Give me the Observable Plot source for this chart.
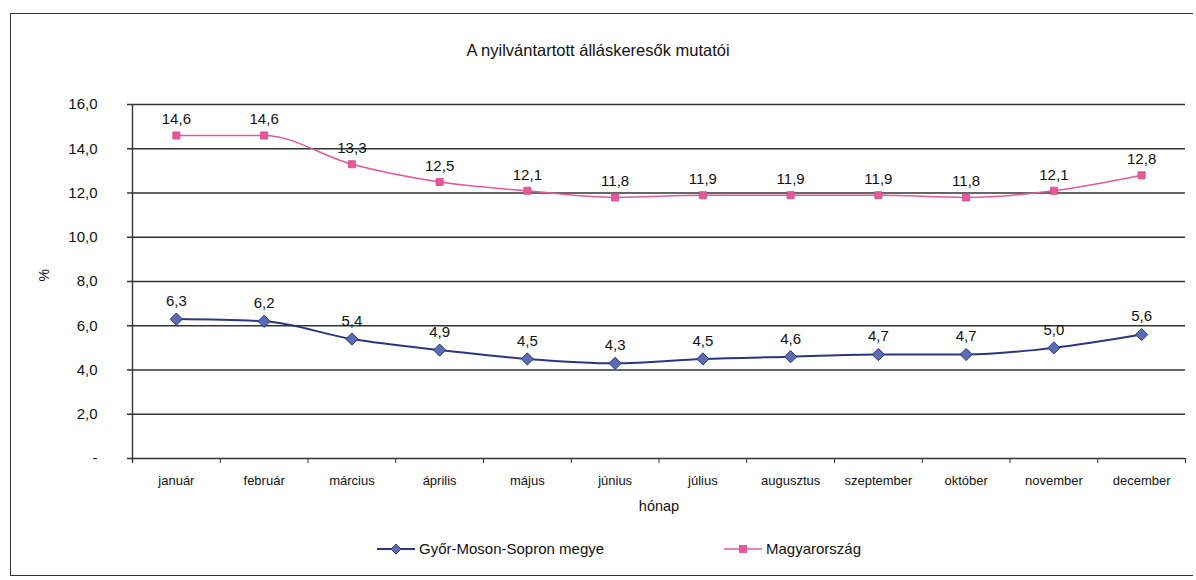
<!DOCTYPE html>
<html>
<head>
<meta charset="utf-8">
<script src="https://cdn.jsdelivr.net/npm/d3@7"></script>
<script src="https://cdn.jsdelivr.net/npm/@observablehq/plot@0.6"></script>
<style>
  html, body { margin:0; padding:0; background:#fff; }
  body { width:1196px; height:580px; position:relative; overflow:hidden; font-family:"Liberation Sans", Arial, sans-serif; color:#111; }
  #frame { position:absolute; left:10px; top:13px; width:1182px; height:561px; border:1.5px solid #333; border-right:none; }
  #title { position:absolute; left:0; width:1196px; top:41px; text-align:center; font-size:16.5px; }
  #chart { position:absolute; left:0; top:0; }
  .leg { position:absolute; top:540px; font-size:15px; display:flex; align-items:center; }
  .leg svg { margin-right:4px; }
</style>
</head>
<body>
<div id="frame"></div>
<div id="title">A nyilvántartott álláskeresők mutatói</div>
<div id="chart"></div>
<div class="leg" style="left:377px"><svg width="38" height="12"><line x1="0" y1="6" x2="38" y2="6" stroke="#2b3585" stroke-width="2"/><path d="M19,1 L24,6 L19,11 L14,6 Z" fill="#5a6db3" stroke="#2b3585"/></svg>Győr-Moson-Sopron megye</div>
<div class="leg" style="left:724px"><svg width="38" height="12"><line x1="0" y1="6" x2="38" y2="6" stroke="#e8579a" stroke-width="1.5"/><rect x="15" y="2" width="8" height="8" fill="#e8579a"/></svg>Magyarország</div>
<script>
const months = ["január","február","március","április","május","június","július","augusztus","szeptember","október","november","december"];
const gyorValues = [6.3, 6.2, 5.4, 4.9, 4.5, 4.3, 4.5, 4.6, 4.7, 4.7, 5.0, 5.6];
const huValues = [14.6, 14.6, 13.3, 12.5, 12.1, 11.8, 11.9, 11.9, 11.9, 11.8, 12.1, 12.8];
const yTicks = [0, 2, 4, 6, 8, 10, 12, 14, 16];

const gyor = months.map((m, i) => ({month: m, xi: i + 0.5, value: gyorValues[i]}));
const hu = months.map((m, i) => ({month: m, xi: i + 0.5, value: huValues[i]}));
const fmt = v => v.toFixed(1).replace(".", ",");

const chart = Plot.plot({
  width: 1196,
  height: 530,
  marginLeft: 132,
  marginRight: 11,
  marginTop: 104,
  marginBottom: 72,
  style: {fontFamily: "'Liberation Sans', Arial, sans-serif", background: "transparent", color: "#111"},
  x: {domain: [0, 12]},
  y: {domain: [0, 16]},
  marks: [
    Plot.ruleY(yTicks, {stroke: "#333", strokeWidth: 1.5, insetLeft: -5}),
    Plot.ruleX([0], {stroke: "#333", strokeWidth: 1.4, insetBottom: -4}),
    Plot.axisY({ticks: yTicks, tickFormat: d => d === 0 ? "-" : fmt(d), tickSize: 0, tickPadding: 35, fontSize: 15, label: null}),
    Plot.text(["%"], {frameAnchor: "left", dx: -88, rotate: -90, fontSize: 14, fill: "#111"}),
    Plot.axisX({ticks: d3.range(13), tickFormat: () => "", tickSize: 5, stroke: "#333", label: null}),
    Plot.axisX({ticks: d3.range(12).map(i => i + 0.5), tickFormat: d => months[Math.floor(d)], tickSize: 0, tickPadding: 17, fontSize: 13, fontFamily: "'Liberation Sans Narrow', 'Arial Narrow', 'Liberation Sans', sans-serif", label: null}),
    Plot.text(["hónap"], {frameAnchor: "bottom", dy: 52, fontSize: 14.5, fill: "#111"}),
    Plot.line(hu, {x: "xi", y: "value", stroke: "#e8579a", strokeWidth: 1.5, curve: "monotone-x"}),
    Plot.line(gyor, {x: "xi", y: "value", stroke: "#2b3585", strokeWidth: 2, curve: "monotone-x"}),
    Plot.dot(hu, {x: "xi", y: "value", symbol: "square", r: 4, fill: "#e8579a", stroke: "#d04a8a", strokeWidth: 0.8}),
    Plot.dot(gyor, {x: "xi", y: "value", symbol: "diamond2", r: 5.5, fill: "#5a6db3", stroke: "#2b3585", strokeWidth: 1}),
    Plot.text(hu, {x: "xi", y: "value", text: d => fmt(d.value), dy: -16, fontSize: 15, fill: "#111"}),
    Plot.text(gyor, {x: "xi", y: "value", text: d => fmt(d.value), dy: -18, fontSize: 15, fill: "#111"})
  ]
});
document.getElementById("chart").appendChild(chart);
</script>
</body>
</html>
